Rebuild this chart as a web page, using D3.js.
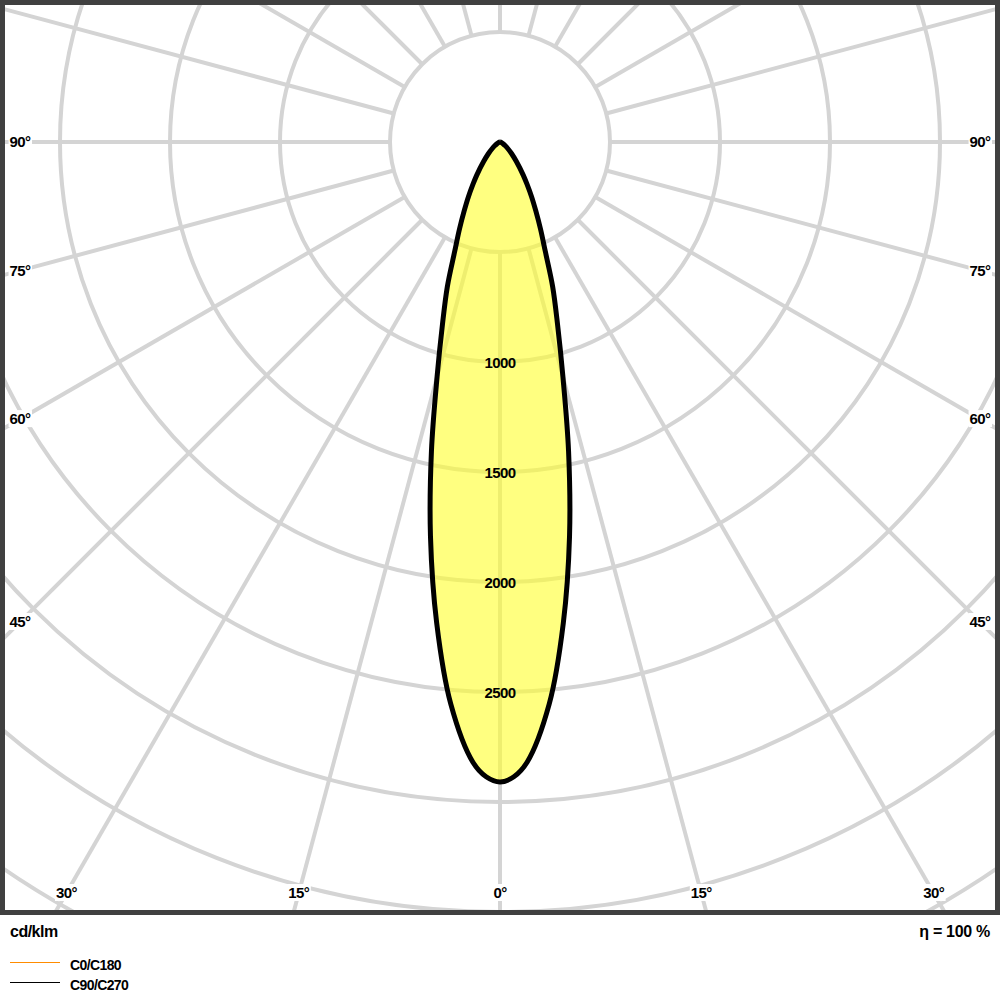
<!DOCTYPE html>
<html>
<head>
<meta charset="utf-8">
<script src="https://cdnjs.cloudflare.com/ajax/libs/d3/7.8.5/d3.min.js"></script>
<style>
  body { margin: 0; background: #fff; }
  svg { display: block; font-family: "Liberation Sans", Arial, sans-serif; font-weight: bold; }
</style>
</head>
<body>
<svg id="chart" width="1000" height="1000"></svg>
<script>
// gamma angles from nadir (deg) and intensities in cd/klm
const gammas  = [0, 1.25, 2.5, 5, 7.5, 10, 12.5, 15, 17.5, 20, 22.5, 25, 27.5, 30, 32.5, 35, 40, 45, 50, 55, 60, 70, 80, 90];
const c0c180  = [2905, 2882, 2818, 2562, 2200, 1818, 1445, 1112, 875, 702, 540, 436, 356, 290, 232, 186, 118, 76, 48, 30, 18, 8, 3, 0];
const c90c270 = [2909, 2886, 2822, 2565, 2205, 1820, 1440, 1105, 870, 700, 538, 435, 352, 287, 230, 185, 116, 74, 46, 28, 16, 7, 3, 0];

const ringValues  = [500, 1000, 1500, 2000, 2500, 3000, 3500, 4000, 4500, 5000];
const ringLabels  = [1000, 1500, 2000, 2500];
const spokeAngles = [0, 15, 30, 45, 60, 75, 90, 105, 120, 135, 150, 165, 180, 195, 210, 225, 240, 255, 270, 285, 300, 315, 330, 345];
const sideLabels  = [90, 75, 60, 45];
const bottomLabels = [30, 15, 0];

const legendItems = [
  { name: "C0/C180", color: "#ff8c00" },
  { name: "C90/C270", color: "#000000" }
];

const W = 1000, H = 912;
const cx = 500, cy = 142;
const rad = Math.PI / 180;

const svg = d3.select("#chart");
const r = d3.scaleLinear().domain([0, 3000]).range([0, 660]);

svg.append("defs").append("clipPath").attr("id", "plotClip")
  .append("rect").attr("x", 0).attr("y", 0).attr("width", W).attr("height", H);

const plot = svg.append("g").attr("clip-path", "url(#plotClip)");
const g = plot.append("g").attr("transform", `translate(${cx},${cy})`);

// rings
g.selectAll("circle.ring")
  .data(ringValues)
  .enter()
  .append("circle")
    .attr("class", "ring")
    .attr("r", d => r(d))
    .attr("fill", "none")
    .attr("stroke", "#d4d4d4")
    .attr("stroke-width", 4);

// spokes, starting at the first ring
g.selectAll("line.spoke")
  .data(spokeAngles)
  .enter()
  .append("line")
    .attr("class", "spoke")
    .attr("x1", d => r(500) * Math.sin(d * rad))
    .attr("y1", d => r(500) * Math.cos(d * rad))
    .attr("x2", d => r(6000) * Math.sin(d * rad))
    .attr("y2", d => r(6000) * Math.cos(d * rad))
    .attr("stroke", "#d4d4d4")
    .attr("stroke-width", 4);

// closed curve: left half (C180 / C270) then right half (C0 / C90)
function curvePoints(values) {
  const pts = [];
  for (let i = gammas.length - 1; i >= 0; i--) pts.push({ a: Math.PI + gammas[i] * rad, v: values[i] });
  for (let i = 1; i < gammas.length; i++) pts.push({ a: Math.PI - gammas[i] * rad, v: values[i] });
  return pts;
}

const radial = d3.lineRadial()
  .angle(d => d.a)
  .radius(d => r(d.v))
  .curve(d3.curveCatmullRom);

g.append("path")
  .datum(curvePoints(c90c270))
  .attr("d", radial)
  .attr("fill", "#ffff2b")
  .attr("fill-opacity", 0.6)
  .attr("stroke", "none");

g.append("path")
  .datum(curvePoints(c0c180))
  .attr("d", radial)
  .attr("fill", "none")
  .attr("stroke", legendItems[0].color)
  .attr("stroke-width", 2);

g.append("path")
  .datum(curvePoints(c90c270))
  .attr("d", radial)
  .attr("fill", "none")
  .attr("stroke", legendItems[1].color)
  .attr("stroke-width", 5)
  .attr("stroke-linejoin", "round");

// intensity labels along the 0° spoke
g.selectAll("text.ringlabel")
  .data(ringLabels)
  .enter()
  .append("text")
    .attr("class", "ringlabel")
    .attr("x", 0)
    .attr("y", d => r(d) + 6)
    .attr("text-anchor", "middle")
    .attr("font-size", 15)
    .attr("letter-spacing", -0.6)
    .text(d => d);

// angle labels with white boxes
function angleLabel(x, y, txt) {
  const lg = plot.append("g");
  const t = lg.append("text")
    .attr("x", x)
    .attr("y", y + 5)
    .attr("text-anchor", "middle")
    .attr("font-size", 15)
    .attr("letter-spacing", -0.6)
    .text(txt);
  const bb = t.node().getBBox();
  lg.insert("rect", "text")
    .attr("x", bb.x - 1)
    .attr("y", bb.y)
    .attr("width", bb.width + 2)
    .attr("height", bb.height)
    .attr("fill", "#fff");
}

sideLabels.forEach(a => {
  const y = cy + 480 * Math.cos(a * rad) / Math.sin(a * rad);
  angleLabel(20, y, a + "°");
  angleLabel(980, y, a + "°");
});
bottomLabels.forEach(a => {
  const dx = (893 - cy) * Math.tan(a * rad);
  angleLabel(cx - dx, 893, a + "°");
  if (a !== 0) angleLabel(cx + dx, 893, a + "°");
});

// frame
svg.append("rect")
  .attr("x", 2.5).attr("y", 2.5)
  .attr("width", W - 5).attr("height", H - 2)
  .attr("fill", "none")
  .attr("stroke", "#404040")
  .attr("stroke-width", 5);

// footer
svg.append("text")
  .attr("x", 10).attr("y", 937)
  .attr("font-size", 16)
  .attr("letter-spacing", -0.5)
  .text("cd/klm");

svg.append("text")
  .attr("x", 990).attr("y", 937)
  .attr("text-anchor", "end")
  .attr("font-size", 16)
  .attr("letter-spacing", -0.3)
  .text("η = 100 %");

const legend = svg.selectAll("g.legend")
  .data(legendItems)
  .enter()
  .append("g")
    .attr("class", "legend")
    .attr("transform", (d, i) => `translate(10,${962.5 + i * 20})`);

legend.append("line")
  .attr("x1", 0).attr("x2", 50)
  .attr("stroke", d => d.color)
  .attr("stroke-width", 1)
  .attr("shape-rendering", "crispEdges");

legend.append("text")
  .attr("x", 60).attr("y", 7.5)
  .attr("font-size", 14)
  .attr("letter-spacing", -0.6)
  .text(d => d.name);
</script>
</body>
</html>
